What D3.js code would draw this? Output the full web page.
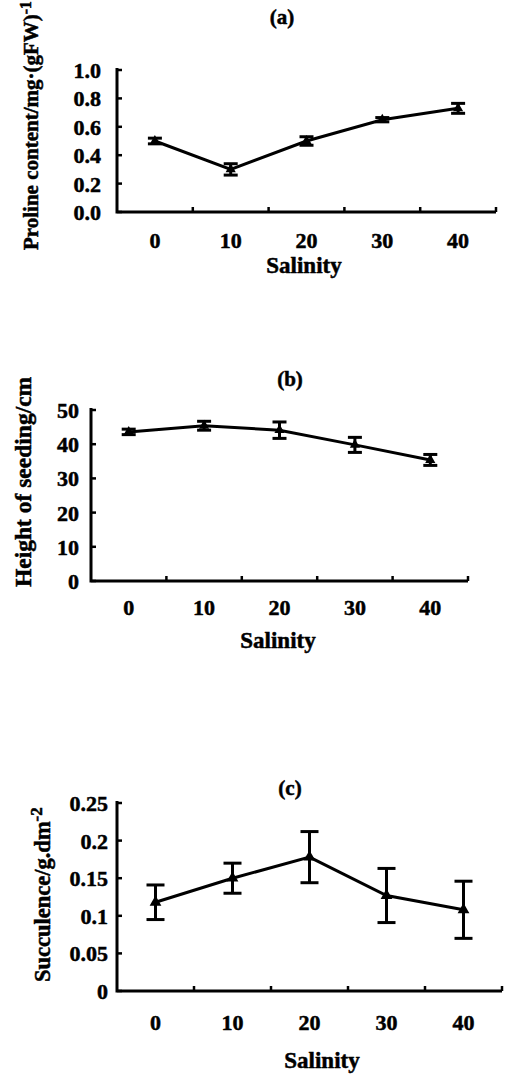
<!DOCTYPE html>
<html>
<head>
<meta charset="utf-8">
<script src="https://cdn.jsdelivr.net/npm/d3@7"></script>
<style>
  body { margin: 0; background: #fff; }
  svg { display: block; }
  text { font-family: "Liberation Serif", "Times New Roman", serif; font-weight: bold; fill: #000; stroke: #000; stroke-width: 0.5px; }
</style>
</head>
<body>
<div id="chart"></div>
<script>
// ----- DATA -----
const salinity = ["0", "10", "20", "30", "40"];

const prolineMean = [0.50, 0.30, 0.50, 0.65, 0.73];
const prolineErr  = [0.02, 0.04, 0.03, 0.015, 0.035];
const prolineTicks = [0, 0.2, 0.4, 0.6, 0.8, 1.0];

const heightMean = [43.6, 45.4, 44.1, 39.8, 35.4];
const heightErr  = [0.8, 1.3, 2.4, 2.2, 1.6];
const heightTicks = [0, 10, 20, 30, 40, 50];

const succMean = [0.118, 0.150, 0.178, 0.127, 0.108];
const succErr  = [0.023, 0.020, 0.034, 0.036, 0.038];
const succTicks = [0, 0.05, 0.1, 0.15, 0.2, 0.25];

const W = 508, H = 1076;

const svg = d3.select("#chart").append("svg")
    .attr("width", W)
    .attr("height", H);

// one panel = one small line chart with error bars
function drawPanel(p){
    const g = svg.append("g");

    const x = d3.scaleBand().domain(salinity).range([p.left, p.right]).padding(0);
    const y = d3.scaleLinear().domain([0, p.ticks[p.ticks.length-1]]).range([p.bottom, p.top]);
    const cx = d => x(d) + x.bandwidth()/2;

    // axes
    g.append("path")
        .attr("d", `M${p.left},${p.top-2}V${p.bottom}H${p.right}`)
        .attr("fill", "none")
        .attr("stroke", "#000")
        .attr("stroke-width", 3);

    // y ticks (inward)
    g.selectAll(".yt").data(p.ticks).enter().append("line")
        .attr("x1", p.left).attr("x2", p.left + 5)
        .attr("y1", d => y(d)).attr("y2", d => y(d))
        .attr("stroke", "#000").attr("stroke-width", 2.5);

    g.selectAll(".yl").data(p.ticks).enter().append("text")
        .attr("x", p.left - p.ylGap)
        .attr("y", d => y(d))
        .attr("dy", "0.36em")
        .attr("text-anchor", "end")
        .style("font-size", p.fs + "px")
        .text(p.fmt);

    // x ticks at band edges (inward)
    const edges = salinity.slice(1).map(d => x(d)).concat([p.right]);
    g.selectAll(".xt").data(edges).enter().append("line")
        .attr("x1", d => d).attr("x2", d => d)
        .attr("y1", p.bottom).attr("y2", p.bottom - 5)
        .attr("stroke", "#000").attr("stroke-width", 2.5);

    g.selectAll(".xl").data(salinity).enter().append("text")
        .attr("x", d => cx(d))
        .attr("y", p.xlBase)
        .attr("text-anchor", "middle")
        .style("font-size", p.fs + "px")
        .text(d => d);

    // line
    const pts = salinity.map((s, i) => ({s, v: p.mean[i], e: p.err[i]}));
    g.append("path")
        .datum(pts)
        .attr("d", d3.line().x(d => cx(d.s)).y(d => y(d.v)))
        .attr("fill", "none")
        .attr("stroke", "#000")
        .attr("stroke-width", 3);

    // error bars
    const eb = g.selectAll(".eb").data(pts).enter().append("g");
    eb.append("line")
        .attr("x1", d => cx(d.s)).attr("x2", d => cx(d.s))
        .attr("y1", d => y(d.v - d.e)).attr("y2", d => y(d.v + d.e))
        .attr("stroke", "#000").attr("stroke-width", 3);
    [1, -1].forEach(sg => {
        eb.append("line")
            .attr("x1", d => cx(d.s) - p.cap).attr("x2", d => cx(d.s) + p.cap)
            .attr("y1", d => y(d.v + sg*d.e)).attr("y2", d => y(d.v + sg*d.e))
            .attr("stroke", "#000").attr("stroke-width", 3);
    });

    // markers
    g.selectAll(".mk").data(pts).enter().append("path")
        .attr("transform", d => `translate(${cx(d.s)},${y(d.v)})`)
        .attr("d", d3.symbol().type(d3.symbolTriangle).size(p.mk))
        .attr("fill", "#000");

    // title
    g.append("text")
        .attr("x", p.titleX).attr("y", p.titleY)
        .attr("text-anchor", "middle")
        .style("font-size", "21px")
        .text(p.title);

    // x label
    g.append("text")
        .attr("x", p.xLabX).attr("y", p.xLabY)
        .attr("text-anchor", "middle")
        .style("font-size", p.xfs + "px")
        .text("Salinity");

    // y label
    const yl = g.append("text")
        .attr("transform", `translate(${p.yLabX},${p.yLabY}) rotate(-90)`)
        .attr("text-anchor", "start")
        .style("font-size", p.yfs + "px")
        .text(p.yLab);
    if (p.sup) {
        yl.append("tspan")
            .attr("dy", "-0.45em")
            .style("font-size", (p.yfs*0.75) + "px")
            .text(p.sup);
    }
}

drawPanel({
    left: 117, right: 496, top: 70, bottom: 212,
    ticks: prolineTicks, fmt: d3.format(".1f"),
    mean: prolineMean, err: prolineErr,
    ylGap: 16, xlBase: 248, fs: 22, xfs: 23, yfs: 21, cap: 7, mk: 45,
    title: "(a)", titleX: 282, titleY: 24,
    xLabX: 304, xLabY: 273,
    yLab: "Proline content/mg·(gFW)", sup: "-1", yLabX: 38, yLabY: 250
});

drawPanel({
    left: 91, right: 468, top: 410, bottom: 581,
    ticks: heightTicks, fmt: d => d,
    mean: heightMean, err: heightErr,
    ylGap: 12, xlBase: 615, fs: 22, xfs: 23, yfs: 23.5, cap: 7, mk: 45,
    title: "(b)", titleX: 290, titleY: 386,
    xLabX: 278, xLabY: 648,
    yLab: "Height of seeding/cm", sup: null, yLabX: 31, yLabY: 587
});

drawPanel({
    left: 117, right: 502, top: 803, bottom: 991,
    ticks: succTicks, fmt: d => String(d),
    mean: succMean, err: succErr,
    ylGap: 9, xlBase: 1030, fs: 22, xfs: 23, yfs: 22.5, cap: 9, mk: 60,
    title: "(c)", titleX: 290, titleY: 795,
    xLabX: 322, xLabY: 1068,
    yLab: "Succulence/g.dm", sup: "-2", yLabX: 50, yLabY: 982
});
</script>
</body>
</html>
